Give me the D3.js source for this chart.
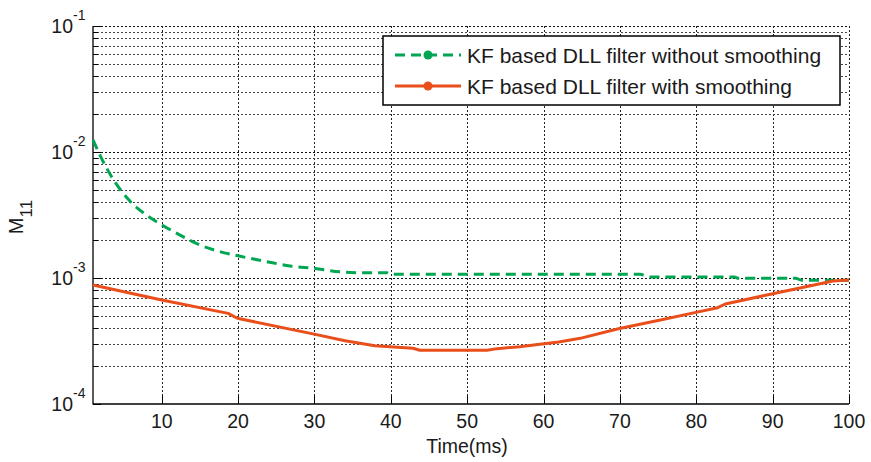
<!DOCTYPE html>
<html>
<head>
<meta charset="utf-8">
<script src="https://cdn.jsdelivr.net/npm/d3@7"></script>
<style>
  body { margin: 0; background: #fff; }
  svg { display: block; }
  text { font-family: "Liberation Sans", Arial, Helvetica, sans-serif; fill: #1a1a1a; }
</style>
</head>
<body>
<svg id="chart" width="871" height="462"></svg>
<script>
// Time axis (ms) and error covariance M11 for the two filters
const timeWithout = [1, 2, 3.7, 5.8, 8, 10, 12.4, 15, 17.6, 20, 23.7, 26.8, 30, 33.3, 36, 39.5, 40, 72.6, 74, 85, 85.5, 93, 93.8, 100];
const m11Without  = [0.0125, 0.0092, 0.0060, 0.0041, 0.00316, 0.00264, 0.00219, 0.00183, 0.00162, 0.00150, 0.00135, 0.001245, 0.00119, 0.00112, 0.00110, 0.00110, 0.00107, 0.00107, 0.00102, 0.00102, 0.000995, 0.000995, 0.00096, 0.00096];

const timeWith = [1, 10, 18.7, 19.9, 29.8, 34, 37.9, 39.9, 42.9, 43.8, 52.6, 53.9, 56.9, 59.5, 62, 64.8, 69.8, 75.3, 79.8, 82.8, 83.8, 89.7, 97.9, 100];
const m11With  = [0.00088, 0.00067, 0.000524, 0.000479, 0.000360, 0.000318, 0.000290, 0.000285, 0.000277, 0.000267, 0.000267, 0.000275, 0.000285, 0.000298, 0.000310, 0.000332, 0.000396, 0.000464, 0.000531, 0.000581, 0.000622, 0.000743, 0.000946, 0.000964];

const xTicks = [10, 20, 30, 40, 50, 60, 70, 80, 90, 100];
const yDecades = [-4, -3, -2, -1];
const seriesNames = ["KF based DLL filter without smoothing", "KF based DLL filter with smoothing"];
const xLabel = "Time(ms)";

const colGreen = "#00a651";
const colRed = "#e94e1b";

const svg = d3.select("#chart");
const L = 93, R = 849, T = 26, B = 404;

const x = d3.scaleLinear().domain([1, 100]).range([L, R]);
const y = d3.scaleLog().domain([1e-4, 1e-1]).range([B, T]);
const px = v => Math.round(v) + 0.5;

// grid
const grid = svg.append("g").attr("shape-rendering", "crispEdges");
xTicks.forEach(t => {
  grid.append("line")
    .attr("x1", px(x(t))).attr("x2", px(x(t))).attr("y1", T).attr("y2", B)
    .attr("stroke", "#222").attr("stroke-width", 1).attr("stroke-dasharray", "2,2");
});
const minorVals = [];
yDecades.slice(0, -1).forEach(k => {
  for (let m = 2; m <= 9; m++) minorVals.push(m * Math.pow(10, k));
});
minorVals.forEach(v => {
  grid.append("line")
    .attr("x1", L).attr("x2", R).attr("y1", px(y(v))).attr("y2", px(y(v)))
    .attr("stroke", "#444").attr("stroke-width", 1).attr("stroke-dasharray", "2,2");
});
yDecades.slice(1).forEach(k => {
  const v = Math.pow(10, k);
  grid.append("line")
    .attr("x1", L).attr("x2", R).attr("y1", px(y(v))).attr("y2", px(y(v)))
    .attr("stroke", "#111").attr("stroke-width", 1).attr("stroke-dasharray", "2,2");
});

// axes
const axes = svg.append("g");
axes.append("line").attr("x1", L).attr("x2", L).attr("y1", T).attr("y2", B + 0.5)
  .attr("stroke", "#000").attr("stroke-width", 1.3);
axes.append("line").attr("x1", L).attr("x2", R).attr("y1", B).attr("y2", B)
  .attr("stroke", "#000").attr("stroke-width", 1.3);

xTicks.forEach(t => {
  axes.append("line").attr("x1", px(x(t))).attr("x2", px(x(t))).attr("y1", B).attr("y2", B - 8)
    .attr("stroke", "#000").attr("stroke-width", 1);
  axes.append("text").attr("x", x(t)).attr("y", 428).attr("text-anchor", "middle")
    .attr("font-size", 19.5).text(t);
});
minorVals.forEach(v => {
  axes.append("line").attr("x1", L).attr("x2", L + 5).attr("y1", px(y(v))).attr("y2", px(y(v)))
    .attr("stroke", "#000").attr("stroke-width", 1);
});
yDecades.forEach(k => {
  const v = Math.pow(10, k);
  axes.append("line").attr("x1", L).attr("x2", L + 8).attr("y1", px(y(v))).attr("y2", px(y(v)))
    .attr("stroke", "#000").attr("stroke-width", 1);
  axes.append("text").attr("x", 73).attr("y", y(v) + 7).attr("text-anchor", "end")
    .attr("font-size", 19.5).text("10");
  axes.append("text").attr("x", 73).attr("y", y(v) - 6).attr("text-anchor", "start")
    .attr("font-size", 14).text(String(k));
});

// axis titles
axes.append("text").attr("x", 467).attr("y", 453).attr("text-anchor", "middle")
  .attr("font-size", 19.5).text(xLabel);
const yl = axes.append("text")
  .attr("transform", "translate(23,217) rotate(-90)")
  .attr("text-anchor", "middle").attr("font-size", 20);
yl.append("tspan").text("M");
yl.append("tspan").attr("font-size", 17).attr("dy", 9).text("11");

// series
const lineSmooth = d3.line().x(d => x(d[0])).y(d => y(d[1])).curve(d3.curveMonotoneX);
const line = d3.line().x(d => x(d[0])).y(d => y(d[1]));
const dWithout = timeWithout.map((t, i) => [t, m11Without[i]]);
const dWith = timeWith.map((t, i) => [t, m11With[i]]);

svg.append("path").datum(dWithout).attr("d", lineSmooth)
  .attr("fill", "none").attr("stroke", colGreen).attr("stroke-width", 3)
  .attr("stroke-dasharray", "10,6");
svg.append("path").datum(dWith).attr("d", line)
  .attr("fill", "none").attr("stroke", colRed).attr("stroke-width", 3)
  .attr("stroke-linejoin", "round");

// legend
const lg = svg.append("g");
lg.append("rect").attr("x", 383).attr("y", 36).attr("width", 457).attr("height", 69)
  .attr("fill", "#fff").attr("stroke", "#000").attr("stroke-width", 1.5);
const rows = [
  { name: seriesNames[0], color: colGreen, dash: "10,6", y: 55 },
  { name: seriesNames[1], color: colRed, dash: null, y: 86 }
];
rows.forEach(r => {
  lg.append("line").attr("x1", 395).attr("x2", 461).attr("y1", r.y).attr("y2", r.y)
    .attr("stroke", r.color).attr("stroke-width", 3)
    .attr("stroke-dasharray", r.dash);
  lg.append("circle").attr("cx", 428).attr("cy", r.y).attr("r", 4.5).attr("fill", r.color);
  lg.append("text").attr("x", 467).attr("y", r.y + 7.5).attr("font-size", 21).text(r.name);
});
</script>
</body>
</html>
